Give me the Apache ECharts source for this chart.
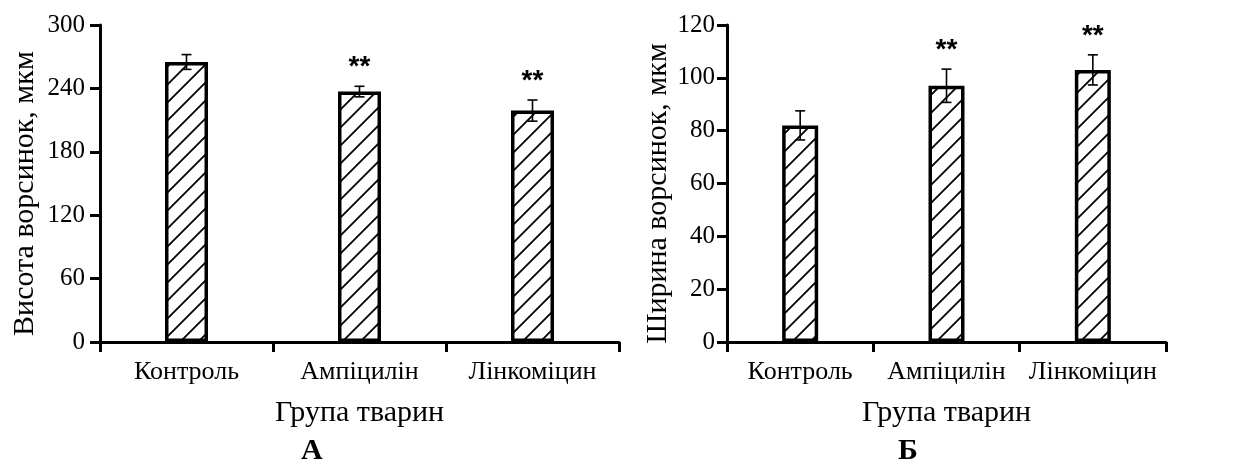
<!DOCTYPE html>
<html>
<head>
<meta charset="utf-8">
<script src="https://cdn.jsdelivr.net/npm/echarts@6/dist/echarts.min.js"></script>
<style>
  html, body { margin: 0; padding: 0; background: #fff; }
  #chart { width: 1257px; height: 463px; }
</style>
</head>
<body>
<div id="chart"></div>
<script>
// Animal groups
const categories = ['Контроль', 'Ампіцилін', 'Лінкоміцин'];

// Panel А: villus height, µm (mean and error)
const heightValues = [265, 237, 219];
const heightErrors = [7, 5, 10];

// Panel Б: villus width, µm (mean and error)
const widthValues = [82, 97, 103];
const widthErrors = [5.5, 6.3, 5.7];

// Significance markers above each group
const marks = ['', '**', '**'];

// Y axis ranges
const heightAxis = { max: 300, interval: 60 };
const widthAxis = { max: 120, interval: 20 };

const SERIF = '"Liberation Serif", "Times New Roman", serif';
const SANS = '"Liberation Sans", Arial, sans-serif';

// Diagonal "/" hatch tile used to fill the bars
function hatchTile(size) {
  const c = document.createElement('canvas');
  c.width = size; c.height = size;
  const g = c.getContext('2d');
  g.fillStyle = '#fff';
  g.fillRect(0, 0, size, size);
  g.strokeStyle = '#000';
  g.lineWidth = 1.8;
  g.beginPath();
  g.moveTo(-2, size + 2); g.lineTo(size + 2, -2);
  g.moveTo(-2, 2); g.lineTo(2, -2);
  g.moveTo(size - 2, size + 2); g.lineTo(size + 2, size - 2);
  g.stroke();
  return c;
}
const hatch = { image: hatchTile(18), repeat: 'repeat' };

const axisLine = { show: true, lineStyle: { color: '#000', width: 3 } };
const axisTick = { show: true, length: 10, lineStyle: { color: '#000', width: 3 } };

function xAxis(gridIndex) {
  return {
    type: 'category', gridIndex, data: categories,
    axisLine, axisTick: Object.assign({ alignWithLabel: false }, axisTick),
    axisLabel: { color: '#000', fontFamily: SERIF, fontSize: 26, margin: 17, interval: 0 },
    name: 'Група тварин', nameLocation: 'middle', nameGap: 56,
    nameTextStyle: { color: '#000', fontFamily: SERIF, fontSize: 30 },
    splitLine: { show: false }
  };
}

function yAxis(gridIndex, cfg, name, gap, margin) {
  return {
    type: 'value', gridIndex, min: 0, max: cfg.max, interval: cfg.interval,
    axisLine, axisTick,
    axisLabel: { color: '#000', fontFamily: SERIF, fontSize: 25, margin },
    name, nameLocation: 'middle', nameGap: gap,
    nameTextStyle: { color: '#000', fontFamily: SERIF, fontSize: 30, padding: [0, 20, 0, 0] },
    splitLine: { show: false }
  };
}

function barSeries(idx, values, width) {
  return {
    type: 'bar', xAxisIndex: idx, yAxisIndex: idx,
    data: values, barWidth: width,
    itemStyle: { color: hatch, borderColor: '#000', borderWidth: 3.5 },
    silent: true, animation: false
  };
}

function errorSeries(idx, values, errors) {
  return {
    type: 'custom', xAxisIndex: idx, yAxisIndex: idx, z: 5,
    clip: false, silent: true, animation: false,
    data: values.map((v, i) => [i, v, errors[i]]),
    renderItem(params, api) {
      const i = api.value(0), v = api.value(1), e = api.value(2);
      const top = api.coord([i, v + e]);
      const bot = api.coord([i, v - e]);
      const hw = 5;
      const st = { stroke: '#000', lineWidth: 1.6 };
      const children = [
        { type: 'line', shape: { x1: top[0], y1: top[1], x2: bot[0], y2: bot[1] }, style: st },
        { type: 'line', shape: { x1: top[0] - hw, y1: top[1], x2: top[0] + hw, y2: top[1] }, style: st },
        { type: 'line', shape: { x1: bot[0] - hw, y1: bot[1], x2: bot[0] + hw, y2: bot[1] }, style: st }
      ];
      const m = marks[params.dataIndex];
      if (m) {
        children.push({
          type: 'text',
          style: {
            x: top[0], y: top[1] - 19, text: m,
            fill: '#000', font: 'bold 28px ' + SANS,
            align: 'center', verticalAlign: 'middle'
          }
        });
      }
      return { type: 'group', children };
    }
  };
}

const chart = echarts.init(document.getElementById('chart'), null, { renderer: 'canvas' });
chart.setOption({
  backgroundColor: '#fff',
  animation: false,
  grid: [
    { left: 100, top: 25, width: 519, height: 317 },
    { left: 727, top: 25, width: 439, height: 317 }
  ],
  xAxis: [xAxis(0), xAxis(1)],
  yAxis: [
    yAxis(0, heightAxis, 'Висота ворсинок, мкм', 60, 15),
    yAxis(1, widthAxis, 'Ширина ворсинок, мкм', 47, 12)
  ],
  series: [
    barSeries(0, heightValues, 43),
    barSeries(1, widthValues, 36),
    errorSeries(0, heightValues, heightErrors),
    errorSeries(1, widthValues, widthErrors)
  ],
  graphic: [
    { type: 'text', left: 312 - 11, top: 436,
      style: { text: 'А', fill: '#000', font: 'bold 30px ' + SERIF } },
    { type: 'text', left: 908 - 10, top: 436,
      style: { text: 'Б', fill: '#000', font: 'bold 30px ' + SERIF } }
  ]
});
</script>
</body>
</html>
